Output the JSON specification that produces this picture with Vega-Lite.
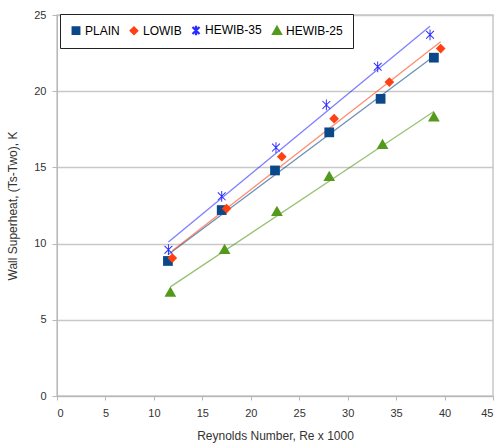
{
  "$schema": "https://vega.github.io/schema/vega-lite/v6.json",
  "autosize": "none",
  "width": 436,
  "height": 381,
  "padding": {"left": 57, "top": 15, "right": 7, "bottom": 51},
  "background": "white",
  "config": {
    "font": "Liberation Sans",
    "view": {"stroke": "#c8c8c8", "strokeWidth": 1.5}
  },
  "data": {
    "values": [
      {"series": "PLAIN", "re": 11.45, "dt": 8.86},
      {"series": "PLAIN", "re": 17.0, "dt": 12.2},
      {"series": "PLAIN", "re": 22.5, "dt": 14.8},
      {"series": "PLAIN", "re": 28.1, "dt": 17.3},
      {"series": "PLAIN", "re": 33.4, "dt": 19.5},
      {"series": "PLAIN", "re": 38.9, "dt": 22.2},
      {"series": "LOWIB", "re": 11.9, "dt": 9.05},
      {"series": "LOWIB", "re": 17.5, "dt": 12.3},
      {"series": "LOWIB", "re": 23.2, "dt": 15.7},
      {"series": "LOWIB", "re": 28.6, "dt": 18.2},
      {"series": "LOWIB", "re": 34.3, "dt": 20.6},
      {"series": "LOWIB", "re": 39.6, "dt": 22.8},
      {"series": "HEWIB-35", "re": 11.5, "dt": 9.6},
      {"series": "HEWIB-35", "re": 17.0, "dt": 13.1},
      {"series": "HEWIB-35", "re": 22.6, "dt": 16.3},
      {"series": "HEWIB-35", "re": 27.8, "dt": 19.1},
      {"series": "HEWIB-35", "re": 33.1, "dt": 21.6},
      {"series": "HEWIB-35", "re": 38.5, "dt": 23.7},
      {"series": "HEWIB-25", "re": 11.7, "dt": 6.8},
      {"series": "HEWIB-25", "re": 17.3, "dt": 9.6},
      {"series": "HEWIB-25", "re": 22.7, "dt": 12.1},
      {"series": "HEWIB-25", "re": 28.1, "dt": 14.4},
      {"series": "HEWIB-25", "re": 33.6, "dt": 16.5},
      {"series": "HEWIB-25", "re": 38.9, "dt": 18.3}
    ]
  },
  "encoding": {
    "x": {
      "field": "re", "type": "quantitative",
      "scale": {"domain": [0, 45], "nice": false},
      "axis": {
        "values": [0, 5, 10, 15, 20, 25, 30, 35, 40, 45],
        "title": "Reynolds Number, Re x 1000",
        "titleFontSize": 12, "titleFontWeight": "normal", "titleColor": "#333",
        "titlePadding": 12,
        "labelFontSize": 11, "labelColor": "#333", "labelPadding": 7,
        "domainColor": "#b8b8b8", "tickColor": "#b8b8b8", "tickSize": 4,
        "grid": false
      }
    },
    "y": {
      "field": "dt", "type": "quantitative",
      "scale": {"domain": [0, 25], "nice": false},
      "axis": {
        "values": [0, 5, 10, 15, 20, 25],
        "title": "Wall Superheat, (Ts-Two), K",
        "titleFontSize": 12, "titleFontWeight": "normal", "titleColor": "#333",
        "titlePadding": 14,
        "labelFontSize": 11, "labelColor": "#333", "labelPadding": 6,
        "domainColor": "#b8b8b8", "tickColor": "#b8b8b8", "tickSize": 5,
        "grid": true, "gridColor": "#c8c8c8", "gridWidth": 1.5
      }
    },
    "color": {
      "field": "series", "type": "nominal",
      "scale": {
        "domain": ["PLAIN", "LOWIB", "HEWIB-35", "HEWIB-25"],
        "range": ["#0a4888", "#ff4010", "#2a2aff", "#52991c"]
      },
      "legend": {
        "title": null,
        "orient": "none",
        "legendX": 3,
        "legendY": -1,
        "direction": "horizontal",
        "columns": 4,
        "columnPadding": 7,
        "symbolOffset": 0,
        "labelFontSize": 12,
        "labelFontWeight": "normal",
        "labelColor": "#000",
        "labelOffset": 3,
        "symbolSize": 55,
        "strokeColor": "#222",
        "fillColor": "white",
        "padding": 10,
        "cornerRadius": 0
      }
    }
  },
  "layer": [
    {
      "transform": [{"regression": "dt", "on": "re", "groupby": ["series"]}],
      "mark": {"type": "line", "strokeWidth": 1.3, "strokeOpacity": 0.6},
      "encoding": {"detail": {"field": "series"}}
    },
    {
      "mark": {"type": "point", "filled": true, "opacity": 1},
      "encoding": {
        "shape": {
          "field": "series", "type": "nominal",
          "scale": {
            "domain": ["PLAIN", "LOWIB", "HEWIB-35", "HEWIB-25"],
            "range": ["square", "diamond", "M-0.1,-1.1L0.1,-1.1L0.1,1.1L-0.1,1.1ZM-0.73,-0.87L0.87,0.73L0.73,0.87L-0.87,-0.73ZM-0.87,0.73L0.73,-0.87L0.87,-0.73L-0.73,0.87Z", "M0,-1.2L1.2,0.9L-1.2,0.9Z"]
          }
        },
        "size": {"value": 95}
      }
    }
  ]
}
